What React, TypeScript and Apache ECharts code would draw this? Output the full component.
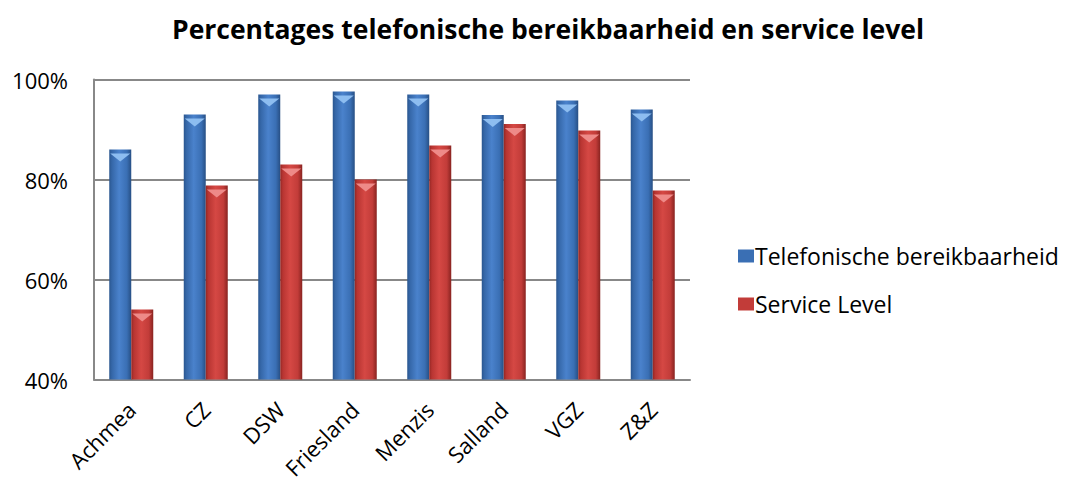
import React, { useEffect, useRef } from "react";
import * as echarts from "echarts";

const categories = ["Achmea", "CZ", "DSW", "Friesland", "Menzis", "Salland", "VGZ", "Z&Z"];
const bereikbaarheid = [86, 93, 97, 97.6, 97, 92.9, 95.8, 94];
const serviceLevel = [54, 78.8, 83, 80, 86.8, 91.1, 89.8, 77.8];
const yTicks = [40, 60, 80, 100];

const FONT = "'Open Sans', sans-serif";

const blueGrad = new echarts.graphic.LinearGradient(0, 0, 1, 0, [
  { offset: 0, color: "#2a568f" },
  { offset: 0.12, color: "#3567a8" },
  { offset: 0.45, color: "#4a82cc" },
  { offset: 0.8, color: "#3a6fb4" },
  { offset: 1, color: "#274f84" },
]);
const redGrad = new echarts.graphic.LinearGradient(0, 0, 1, 0, [
  { offset: 0, color: "#932724" },
  { offset: 0.12, color: "#b83532" },
  { offset: 0.45, color: "#d54844" },
  { offset: 0.8, color: "#c23c39" },
  { offset: 1, color: "#882320" },
]);

export default function App() {
  const ref = useRef<HTMLDivElement>(null);
  useEffect(() => {
    const chart = echarts.init(ref.current!, null, { renderer: "svg" });
    const capPath = "path://M0,0 L20,0 L10,7 Z";
    chart.setOption({
      animation: false,
      backgroundColor: "#ffffff",
      title: {
        text: "Percentages telefonische bereikbaarheid en service level",
        left: 167,
        top: 10,
        textStyle: { fontFamily: FONT, fontWeight: "bold", fontSize: 26.5, color: "#000" },
      },
      legend: {
        orient: "vertical",
        left: 733,
        top: 237,
        itemGap: 20,
        itemWidth: 16,
        itemHeight: 13,
        icon: "rect",
        data: [
          { name: "Telefonische bereikbaarheid", itemStyle: { color: "#3a6fb4" } },
          { name: "Service Level", itemStyle: { color: "#c23c39" } },
        ],
        textStyle: { fontFamily: FONT, fontSize: 23, lineHeight: 28, color: "#000", padding: [0, 0, 0, -4] },
      },
      grid: { left: 94, right: 376, top: 79.5, bottom: 102.5, containLabel: false },
      xAxis: {
        type: "category",
        data: categories,
        axisLine: { show: true, lineStyle: { color: "#888", width: 2 } },
        axisTick: { show: false },
        axisLabel: {
          rotate: 45,
          fontFamily: FONT,
          fontSize: 22,
          color: "#000",
          margin: 26,
          interval: 0,
        },
      },
      yAxis: {
        type: "value",
        min: 40,
        max: 100,
        interval: 20,
        axisLine: { show: true, lineStyle: { color: "#888", width: 2 } },
        axisTick: { show: false },
        splitLine: { lineStyle: { color: "#888", width: 2 } },
        axisLabel: {
          fontFamily: FONT,
          fontSize: 22,
          color: "#000",
          margin: 26,
          formatter: (v: number) => (yTicks.includes(v) ? v + "%" : ""),
        },
      },
      series: [
        {
          name: "Telefonische bereikbaarheid",
          type: "bar",
          data: bereikbaarheid,
          barWidth: 22,
          barGap: "0%",
          itemStyle: { color: blueGrad },
          z: 2,
        },
        {
          name: "Service Level",
          type: "bar",
          data: serviceLevel,
          barWidth: 22,
          barGap: "0%",
          itemStyle: { color: redGrad },
          z: 2,
        },
        {
          name: "capBlue",
          type: "pictorialBar",
          data: bereikbaarheid,
          barWidth: 22,
          barGap: "0%",
          symbol: capPath,
          symbolSize: [20, 8],
          symbolPosition: "end",
          symbolOffset: [0, "50%"],
          itemStyle: { color: "#8dbdf0" },
          z: 5,
          silent: true,
        },
        {
          name: "capRed",
          type: "pictorialBar",
          data: serviceLevel,
          barWidth: 22,
          barGap: "0%",
          symbol: capPath,
          symbolSize: [20, 8],
          symbolPosition: "end",
          symbolOffset: [0, "50%"],
          itemStyle: { color: "#ee8a88" },
          z: 5,
          silent: true,
        },
      ],
    });
    return () => chart.dispose();
  }, []);
  return (
    <div
      ref={ref}
      style={{ position: "fixed", left: 0, top: 0, width: 1066, height: 482 }}
    />
  );
}
